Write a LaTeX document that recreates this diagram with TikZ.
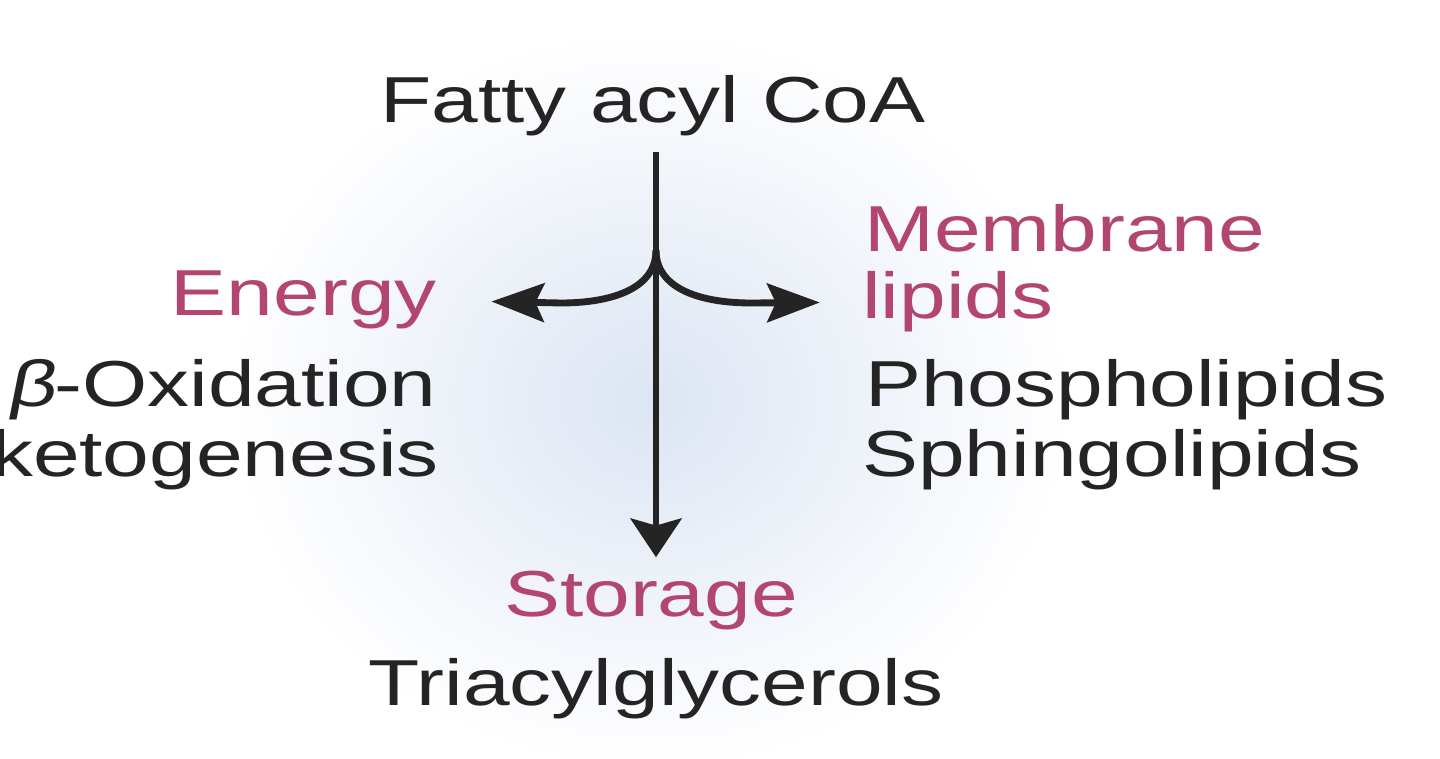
\documentclass[tikz,border=0pt]{standalone}
\usepackage{fontspec}
\setmainfont{Liberation Sans}
\newfontfamily\widefont[FakeStretch=1.29]{Liberation Sans}
\newfontfamily\wideslant[FakeStretch=1.29,FakeSlant=0.2]{Liberation Sans}
\usetikzlibrary{arrows.meta}
\usetikzlibrary{positioning}
\definecolor{rose}{RGB}{178,70,112}
\definecolor{ink}{RGB}{36,36,36}
\definecolor{glow}{RGB}{220,229,243}

\begin{document}
\begin{tikzpicture}[x=0.02cm, y=-0.02cm,
    word/.style={inner sep=0pt, text=ink, font=\widefont\fontsize{37}{44}\selectfont},
    head/.style={word, text=rose},
    flow/.style={line width=3.9pt, draw=ink},
    sidetip/.style={-{Stealth[length=30pt, width=22pt, inset=5pt]}},
    downtip/.style={-{Stealth[length=22pt, width=29pt, inset=4pt]}}]
            \useasboundingbox (0,0) rectangle (1440,759);
            \fill[white] (0,0) rectangle (1440,759);
            
            % soft glow behind the arrows
            \shade[inner color=glow, outer color=white] (650,400) ellipse [x radius=8.4cm, y radius=7.4cm];
            
            \node[word, anchor=base] (fatty) at (653,123) {Fatty acyl CoA};
            
            % Energy branch
            \node[head, anchor=base east] (energy) at (437,316) {Energy};
            \node[word, anchor=base east] (betaox) at (437,407) {{\wideslant β}-Oxidation};
            \node[word, anchor=base east] (keto) at (439,477) {ketogenesis};
            
            % Membrane branch
            \node[head, anchor=base west] (membrane) at (864,252) {Membrane};
            \node[head, anchor=base west] (lipids) at (862,319) {lipids};
            \node[word, anchor=base west] (phospho) at (865,407) {Phospholipids};
            \node[word, anchor=base west] (sphingo) at (862,477) {Sphingolipids};
            
            % Storage branch
            \node[head, anchor=base] (storage) at (651,617) {Storage};
            \node[word, anchor=base] (triacyl) at (656,705) {Triacylglycerols};
            
            \coordinate (top) at (656,152);
            \coordinate (split) at (656,250);
            
            \draw[flow, downtip, shorten >=8pt] (top) -- (top |- storage.north);
            \draw[flow, sidetip, shorten >=31pt] (split) to[out=-90, in=0] ++(-95,53) -- (energy.east);
            \draw[flow, sidetip, shorten >=24pt] (split) to[out=-90, in=180] ++(95,53) -- (lipids.west);
        \end{tikzpicture}
\end{document}
